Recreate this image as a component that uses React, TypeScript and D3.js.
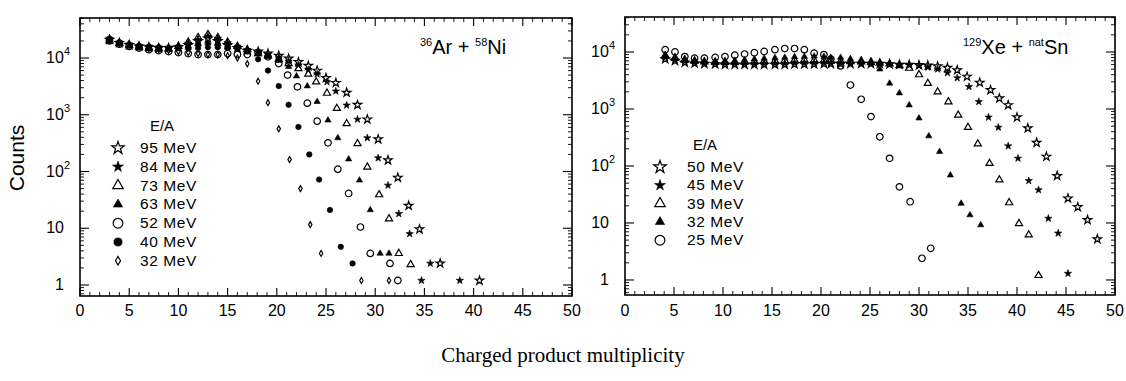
import React from 'react';
import { scaleLinear, scaleLog, symbol, symbolStar, symbolTriangle, symbolCircle, symbolDiamond, range } from 'd3';

type Pt = [number, number];

// 36Ar + 58Ni, counts vs charged product multiplicity, by E/A
const ar95: Pt[] = [[3,21000],[4,18500],[5,17000],[6,16000],[7,15500],[8,15000],[9,15000],[10,15500],[11,17000],[12,20000],[13,22000],[14,20000],[15,17000],[16,15000],[17,13500],[18.1,13000],[19.1,12000],[20.2,11000],[21.2,9800],[22.2,8500],[23.2,7300],[24.1,6000],[25.0,4460],[26.0,3650],[27.1,2450],[28.2,1500],[29.2,830],[30.3,370],[31.3,158],[32.3,78],[33.4,25],[34.5,9.6],[36.6,2.4],[40.6,1.2]];
const ar84: Pt[] = [[3,22000],[4,19000],[5,17500],[6,16500],[7,16000],[8,15500],[9,15500],[10,16000],[11,18000],[12,21000],[13,24000],[14,22000],[15,18500],[16,16000],[17,14000],[18.1,12500],[19.1,11500],[20.2,10000],[21.2,8800],[22.2,7500],[23.2,6200],[24.1,5200],[25.1,3800],[26.0,2600],[27.1,1470],[28.2,830],[29.2,390],[30.3,173],[31.3,57],[32.4,18],[33.5,8],[34.7,1.2],[35.6,2.4],[38.6,1.2]];
const ar73: Pt[] = [[3,20000],[4,18000],[5,16500],[6,15500],[7,15000],[8,14500],[9,14500],[10,16000],[11,19000],[12,23000],[13,26000],[14,23000],[15,19000],[16,16000],[17,14000],[18.1,12000],[19.1,11000],[20.2,9500],[21.2,8000],[22.2,6500],[23.2,5200],[24.0,3800],[25.1,2400],[26.1,1300],[27.1,700],[28.2,310],[29.2,120],[30.4,39],[31.4,14.7],[32.4,3.6],[33.6,2.3]];
const ar63: Pt[] = [[3,21000],[4,18500],[5,17000],[6,16000],[7,15500],[8,15000],[9,15000],[10,15500],[11,16500],[12,17500],[13,18500],[14,18000],[15,17000],[16,15500],[17,13000],[18.1,12000],[19.1,10500],[20.2,9000],[21.2,7000],[22.0,4800],[23.1,3200],[24.1,1700],[25.2,800],[26.2,390],[27.3,165],[28.4,70],[29.5,21],[30.5,3.6],[31.4,3.6]];
const ar52: Pt[] = [[3,20000],[4,17500],[5,16000],[6,15000],[7,14000],[8,13500],[9,13000],[10,12500],[11,12000],[12,11500],[13,11500],[14,11500],[15,12000],[16,11500],[17,11500],[18.1,12500],[19.1,10500],[20.2,8000],[21.1,5000],[22.1,3100],[23.1,1600],[24.1,770],[25.2,320],[26.2,110],[27.3,41],[28.5,10.5],[29.5,3.6],[31.5,2.4],[32.3,1.2]];
const ar40: Pt[] = [[3,22000],[4,19000],[5,17500],[6,16500],[7,16000],[8,15500],[9,15000],[10,15000],[11,15000],[12,15000],[13,15500],[14,15500],[15,15000],[16,14500],[17,13000],[18.1,9500],[19.1,6000],[20.2,3200],[21.2,1500],[22.2,610],[23.3,200],[24.3,72],[25.4,21],[26.5,4.7],[27.7,2.4]];
const ar32: Pt[] = [[3,21000],[4,18000],[5,16500],[6,15500],[7,14500],[8,14000],[9,13500],[10,13000],[11,12500],[12,12000],[13,11500],[14,11500],[15,11000],[16,10000],[17,7900],[18.1,3900],[19.1,1630],[20.2,565],[21.3,162],[22.4,50],[23.4,11.6],[24.5,3.6],[28.6,1.2],[31.4,1.2]];

// 129Xe + natSn
const xe50: Pt[] = [[4.1,7500],[5.1,7000],[6.1,6500],[7.1,6300],[8.1,6200],[9.2,6100],[10.2,6000],[11.2,6000],[12.2,6000],[13.2,6000],[14.2,6000],[15.3,6000],[16.3,6000],[17.3,6100],[18.3,6100],[19.3,6100],[20.3,6200],[21.0,6200],[22.0,6200],[23.0,6200],[24.1,6200],[25.1,6200],[26.0,6200],[27.0,6100],[28.0,6000],[29.0,6000],[30.0,5900],[30.9,5800],[31.9,5600],[32.9,5300],[33.9,4800],[34.9,3700],[36.2,2900],[37.3,2150],[38.2,1540],[39.1,1170],[40.0,715],[41.1,460],[42.0,256],[43.0,146],[44.1,67],[45.2,27],[46.2,19],[47.2,11.3],[48.2,5.2]];
const xe45: Pt[] = [[4.1,8000],[5.1,7200],[6.1,6800],[7.1,6500],[8.1,6400],[9.2,6300],[10.2,6300],[11.2,6200],[12.2,6200],[13.2,6200],[14.2,6300],[15.3,6300],[16.3,6300],[17.3,6400],[18.3,6400],[19.3,6400],[20.3,6500],[21.0,6400],[22.0,6400],[23.0,6300],[24.1,6300],[25.1,6200],[26.0,6200],[27.0,6100],[28.0,6000],[29.0,5900],[30.0,5700],[30.9,5400],[31.9,5000],[32.9,4300],[33.9,3500],[35.1,2460],[36.1,1340],[37.1,715],[38.1,475],[39.1,224],[40.1,136],[41.2,55],[42.2,38],[43.2,12],[44.2,6.6],[45.2,1.3]];
const xe39: Pt[] = [[4.1,8500],[5.1,7800],[6.1,7200],[7.1,6900],[8.1,6700],[9.2,6600],[10.2,6600],[11.2,6600],[12.2,6700],[13.2,6800],[14.2,6900],[15.3,7000],[16.3,7100],[17.3,7200],[18.3,7300],[19.3,7200],[20.3,7100],[21.0,7000],[22.0,6900],[23.0,6800],[24.1,6700],[25.1,6500],[26.0,6400],[27.0,6200],[28.0,5800],[29.0,5200],[30.0,4000],[30.9,2820],[31.9,2000],[33.0,1340],[34.0,780],[35.0,475],[36.0,245],[37.2,111],[38.2,57],[39.2,22.7],[40.2,9.8],[41.2,6.2],[42.2,1.2]];
const xe32: Pt[] = [[4.1,9000],[5.1,8200],[6.1,7600],[7.1,7200],[8.1,7000],[9.2,6900],[10.2,7000],[11.2,7100],[12.2,7300],[13.2,7500],[14.2,7700],[15.3,7900],[16.3,8000],[17.3,8200],[18.3,8300],[19.3,8400],[20.3,8300],[21.0,8000],[22.0,8000],[23.0,7600],[24.1,7300],[25.1,7000],[26.0,5000],[27.0,2820],[28.0,1900],[29.0,1170],[30.0,690],[31.0,335],[32.1,178],[33.2,69],[34.3,22],[35.2,13.8],[36.3,9.2]];
const xe25: Pt[] = [[4.1,11000],[5.1,10000],[6.1,8300],[7.1,7800],[8.1,7800],[9.2,8000],[10.2,8300],[11.2,8800],[12.2,9200],[13.2,9700],[14.2,10200],[15.3,11000],[16.3,11500],[17.3,11500],[18.3,11000],[19.3,9500],[20.3,9000],[21.0,7500],[22.0,5700],[23.0,2630],[24.1,1480],[25.1,735],[26.0,325],[27.0,136],[28.0,43],[29.1,23.6],[30.3,2.4],[31.2,3.6]];

const arLabels = ['95 MeV', '84 MeV', '73 MeV', '63 MeV', '52 MeV', '40 MeV', '32 MeV'];
const xeLabels = ['50 MeV', '45 MeV', '39 MeV', '32 MeV', '25 MeV'];
const xTicks = [0, 5, 10, 15, 20, 25, 30, 35, 40, 45, 50];
const yDecades = [1, 10, 100, 1000, 10000];

type Mark = { type: any; size: number; filled: boolean };
const MARKS: Record<string, Mark> = {
  openStar: { type: symbolStar, size: 22, filled: false },
  star: { type: symbolStar, size: 17, filled: true },
  openTri: { type: symbolTriangle, size: 22, filled: false },
  tri: { type: symbolTriangle, size: 17, filled: true },
  openCircle: { type: symbolCircle, size: 34, filled: false },
  circle: { type: symbolCircle, size: 24, filled: true },
  diamond: { type: symbolDiamond, size: 10, filled: false },
};

const FONT = '"Liberation Sans", Arial, sans-serif';

function Marker({ kind, x, y, scale = 1 }: { kind: string; x: number; y: number; scale?: number }) {
  const m = MARKS[kind];
  const d = symbol(m.type, m.size * scale)() as string;
  return (
    <path
      d={d}
      transform={`translate(${x},${y})`}
      fill={m.filled ? '#000' : 'none'}
      stroke="#000"
      strokeWidth={m.filled ? 0.6 : 1.2}
    />
  );
}

function Panel(props: any) {
  const { x0, x1, top, bottom, yDom, series, kinds, labels, legend, title } = props;
  const x = scaleLinear().domain([0, 50]).range([x0, x1]);
  const y = scaleLog().domain(yDom).range([bottom, top]);
  const minorY: number[] = [];
  yDecades.concat([100000]).forEach((d) => {
    range(2, 10).forEach((k) => {
      const v = (k * d) / 10;
      if (v > yDom[0] && v < yDom[1]) minorY.push(v);
    });
  });
  const minorX = range(0, 51).filter((v) => v % 5 !== 0);
  const sup = (d: number) => Math.round(Math.log10(d));
  return (
    <g>
      <rect x={x0} y={top} width={x1 - x0} height={bottom - top} fill="none" stroke="#000" strokeWidth={1.6} />
      {xTicks.map((t) => (
        <g key={'xt' + t}>
          <line x1={x(t)} x2={x(t)} y1={bottom} y2={bottom - 8} stroke="#000" strokeWidth={1.1} />
          <line x1={x(t)} x2={x(t)} y1={top} y2={top + 8} stroke="#000" strokeWidth={1.1} />
          <text x={x(t)} y={316} textAnchor="middle" fontFamily={FONT} fontSize={16}>{t}</text>
        </g>
      ))}
      {minorX.map((t) => (
        <g key={'xm' + t}>
          <line x1={x(t)} x2={x(t)} y1={bottom} y2={bottom - 4} stroke="#000" strokeWidth={0.9} />
          <line x1={x(t)} x2={x(t)} y1={top} y2={top + 4} stroke="#000" strokeWidth={0.9} />
        </g>
      ))}
      {yDecades.map((d) => (
        <g key={'yt' + d}>
          <line x1={x0} x2={x0 + 9} y1={y(d)} y2={y(d)} stroke="#000" strokeWidth={1.1} />
          <line x1={x1} x2={x1 - 9} y1={y(d)} y2={y(d)} stroke="#000" strokeWidth={1.1} />
          {d < 100 ? (
            <text x={x0 - 16} y={y(d) + 5} textAnchor="end" fontFamily={FONT} fontSize={16}>{d}</text>
          ) : (
            <text x={x0 - 10} y={y(d) + 5} textAnchor="end" fontFamily={FONT} fontSize={16}>
              10<tspan dy={-8} fontSize={11}>{sup(d)}</tspan>
            </text>
          )}
        </g>
      ))}
      {minorY.map((v, i) => (
        <g key={'ym' + i}>
          <line x1={x0} x2={x0 + 4} y1={y(v)} y2={y(v)} stroke="#000" strokeWidth={0.9} />
          <line x1={x1} x2={x1 - 4} y1={y(v)} y2={y(v)} stroke="#000" strokeWidth={0.9} />
        </g>
      ))}
      {series.map((s: Pt[], i: number) =>
        s.map((p, j) => <Marker key={i + '-' + j} kind={kinds[i]} x={x(p[0])} y={y(p[1])} />)
      )}
      <text x={legend.hx} y={legend.hy} textAnchor="middle" fontFamily={FONT} fontSize={15}>E/A</text>
      {labels.map((l: string, i: number) => {
        const ly = legend.y0 + i * legend.step;
        return (
          <g key={'lg' + i}>
            <Marker kind={kinds[i]} x={legend.sx} y={ly} scale={2.2} />
            <text x={legend.tx} y={ly + 5} fontFamily={FONT} fontSize={15.5} letterSpacing={0.6}>{l}</text>
          </g>
        );
      })}
      {title}
    </g>
  );
}

export default function App() {
  const arKinds = ['openStar', 'star', 'openTri', 'tri', 'openCircle', 'circle', 'diamond'];
  const xeKinds = ['openStar', 'star', 'openTri', 'tri', 'openCircle'];
  return (
    <svg width={1126} height={381} style={{ position: 'absolute', left: 0, top: 0, background: '#fff' }}>
      <Panel
        x0={80} x1={572} top={18} bottom={296} yDom={[0.64, 50700]}
        series={[ar95, ar84, ar73, ar63, ar52, ar40, ar32]} kinds={arKinds} labels={arLabels}
        legend={{ hx: 162, hy: 131, sx: 118, tx: 140, y0: 148, step: 18.8 }}
        title={
          <text x={420} y={54} fontFamily={FONT} fontSize={20}>
            <tspan fontSize={11} dy={-8}>36</tspan><tspan dy={8}>Ar + </tspan>
            <tspan fontSize={11} dy={-8}>58</tspan><tspan dy={8}>Ni</tspan>
          </text>
        }
      />
      <Panel
        x0={625} x1={1115} top={17} bottom={295} yDom={[0.545, 41100]}
        series={[xe50, xe45, xe39, xe32, xe25]} kinds={xeKinds} labels={xeLabels}
        legend={{ hx: 705, hy: 150, sx: 660, tx: 687, y0: 167, step: 18.3 }}
        title={
          <text x={963} y={54} fontFamily={FONT} fontSize={20}>
            <tspan fontSize={11} dy={-8}>129</tspan><tspan dy={8}>Xe + </tspan>
            <tspan fontSize={11} dy={-8}>nat</tspan><tspan dy={8}>Sn</tspan>
          </text>
        }
      />
      <text transform="translate(24,158) rotate(-90)" textAnchor="middle" fontFamily={FONT} fontSize={21}>Counts</text>
      <text x={563} y={362} textAnchor="middle" fontFamily='"Liberation Serif", "DejaVu Serif", serif' fontSize={21}>
        Charged product multiplicity
      </text>
    </svg>
  );
}
